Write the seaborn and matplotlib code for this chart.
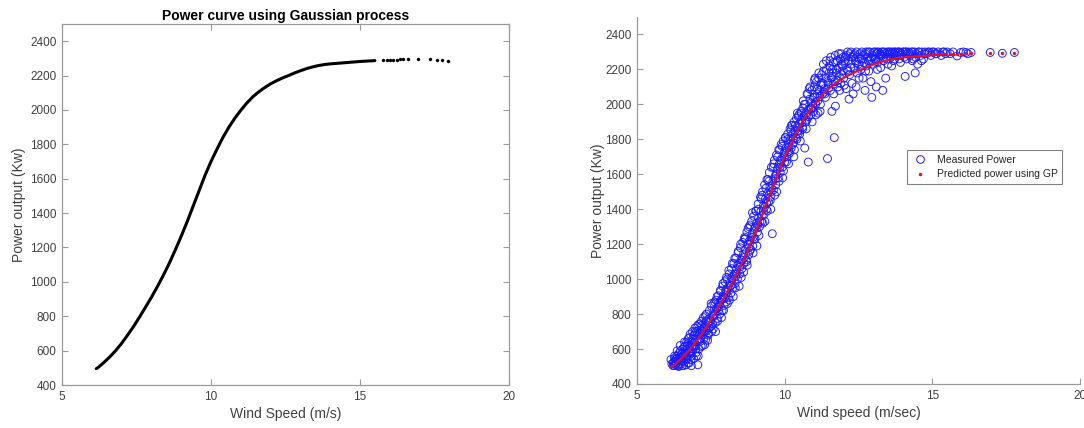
import matplotlib
matplotlib.use("Agg")
import matplotlib.pyplot as plt
from matplotlib.lines import Line2D
import seaborn as sns

# ---------------- data ----------------
gp_wind = [6.15, 6.2, 6.4, 6.6, 6.8, 7.0, 7.2, 7.4, 7.6, 7.8, 8.0, 8.2, 8.4, 8.6, 8.8,
           9.0, 9.2, 9.4, 9.6, 9.8, 10.0, 10.2, 10.4, 10.6, 10.8, 11.0, 11.2, 11.4,
           11.6, 11.8, 12.0, 12.2, 12.4, 12.6, 12.8, 13.0, 13.2, 13.4, 13.6, 13.8,
           14.0, 14.5, 15.0, 15.5]
gp_power = [495, 500, 530, 563, 600, 642, 690, 740, 795, 852, 910, 972, 1038, 1108, 1185,
            1265, 1350, 1440, 1530, 1620, 1700, 1772, 1840, 1900, 1952, 1998, 2040, 2076,
            2105, 2130, 2152, 2170, 2186, 2200, 2215, 2228, 2240, 2250, 2258, 2264,
            2268, 2275, 2282, 2287]

left_tail_wind = [15.77, 15.9, 16.0, 16.1, 16.24, 16.34, 16.44, 16.6, 16.95, 17.35,
                  17.6, 17.75, 17.95]
left_tail_power = [2289, 2290, 2291, 2292, 2293, 2294, 2294, 2295, 2297, 2296,
                   2292, 2290, 2287]

right_tail_wind = [15.6, 15.7, 15.84, 15.96, 16.14, 16.31, 16.96, 17.37, 17.78]
right_tail_power = [2288, 2289, 2290, 2291, 2292, 2293, 2296, 2294, 2295]

measured_wind_a = [
    6.15, 6.18, 6.22, 6.25, 6.28, 6.30, 6.33, 6.35, 6.38, 6.40, 6.42, 6.45, 6.47, 6.50,
    6.52, 6.55, 6.57, 6.60, 6.62, 6.64, 6.66, 6.68, 6.70, 6.72, 6.74, 6.76, 6.78, 6.80,
    6.82, 6.84, 6.86, 6.88, 6.90, 6.92, 6.94, 6.96, 6.98, 7.00, 7.02, 7.04, 7.06, 7.08,
    7.10, 7.12, 7.15, 7.18, 7.20, 7.22, 7.25, 7.28, 7.30, 7.33, 7.35, 7.38, 7.40, 7.42,
    7.45, 7.48, 7.50, 7.52, 7.55, 7.58, 7.60, 7.62, 7.65, 7.68, 7.70, 7.72, 7.75, 7.78,
    7.80, 7.82, 7.85, 7.88, 7.90, 7.92, 7.95, 7.98, 8.00, 8.02, 8.05, 8.08, 8.10, 8.12,
    8.15, 8.18, 8.20, 8.22, 8.25, 8.28, 8.30, 8.32, 8.35, 8.38, 8.40, 8.42, 8.45, 8.48,
    8.50, 8.52, 8.55, 8.58, 8.60, 8.62, 8.65, 8.68, 8.70, 8.72, 8.75, 8.78, 8.80, 8.82,
    8.85, 8.88, 8.90, 8.92, 8.95, 8.98, 9.00, 9.02, 9.05, 9.08, 9.10, 9.12, 9.15, 9.18,
    9.20, 9.22, 9.25, 9.28, 9.30, 9.32, 9.35, 9.38, 9.40, 9.42, 9.45, 9.48, 9.50, 9.52,
    9.55, 9.58, 9.60, 9.62, 9.65, 9.68, 9.70, 9.72, 9.75, 9.78, 9.80, 9.82, 9.85, 9.88,
    9.90, 9.92, 9.95, 9.98, 10.00, 10.02, 10.05, 10.08, 10.10, 10.12, 10.15, 10.18,
    10.20, 10.22, 10.25, 10.28, 10.30, 10.32, 10.35, 10.38, 10.40, 10.42, 10.45, 10.48,
    10.50, 10.52, 10.55, 10.58, 10.60, 10.62, 10.65, 10.68, 10.70, 10.72, 10.75, 10.78,
    10.80, 10.82, 10.85, 10.88, 10.90, 10.92, 10.95, 10.98, 11.00, 11.02, 11.05, 11.08,
    11.10, 11.12, 11.15, 11.18, 11.20, 11.22, 11.25, 11.28, 11.30, 11.32, 11.35, 11.38,
    11.40, 11.42, 11.45, 11.48, 11.50, 11.52, 11.55, 11.58, 11.60, 11.62, 11.65, 11.68,
    11.70, 11.72, 11.75, 11.78, 11.80, 11.82, 11.85, 11.88, 11.90, 11.92, 11.95, 11.98,
    12.00, 12.05, 12.08, 12.10, 12.12, 12.15, 12.18, 12.20, 12.22, 12.25, 12.28, 12.30,
    12.35, 12.38, 12.40, 12.42, 12.45, 12.48, 12.50, 12.55, 12.58, 12.60, 12.65, 12.68,
    12.70, 12.72, 12.75, 12.78, 12.80, 12.85, 12.88, 12.90, 12.95, 12.98, 13.00, 13.05,
    13.08, 13.10, 13.12, 13.15, 13.18, 13.20, 13.25, 13.28, 13.30, 13.32, 13.35, 13.38,
    13.40, 13.45, 13.48, 13.50, 13.55, 13.58, 13.60, 13.65, 13.68, 13.70, 13.75, 13.80,
    13.85, 13.88, 13.90, 13.95, 14.00, 14.05, 14.08, 14.10, 14.15, 14.20, 14.25, 14.30,
    14.35, 14.40, 14.45, 14.50, 14.55, 14.60, 14.65, 14.70, 14.75, 14.80, 14.90, 15.00,
    15.10, 15.20, 15.30, 15.40, 15.50, 15.60, 15.84, 15.96, 16.14, 16.31, 16.96, 17.37,
    17.78]
measured_power_a = [
    540, 515, 505, 530, 548, 510, 520, 560, 505, 540, 575, 515, 590, 545,
    505, 600, 560, 525, 615, 580, 510, 640, 595, 555, 660, 520, 620, 685,
    575, 505, 640, 700, 600, 545, 680, 720, 620, 580, 700, 655, 510, 740,
    600, 690, 645, 760, 710, 620, 780, 700, 745, 655, 800, 720, 770, 690,
    820, 760, 730, 845, 790, 715, 860, 800, 750, 880, 830, 775, 905, 850,
    800, 935, 880, 820, 960, 900, 850, 985, 930, 870, 1000, 950, 895, 1030,
    980, 920, 1060, 1000, 950, 1090, 1030, 975, 1120, 1060, 1000, 1150, 1090, 1030,
    1180, 1110, 1060, 1210, 1140, 1090, 1240, 1170, 1110, 1270, 1200, 1140, 1300, 1220,
    1170, 1330, 1260, 1190, 1360, 1290, 1230, 1390, 1320, 1270, 1430, 1350, 1300, 1470,
    1390, 1330, 1500, 1420, 1370, 1540, 1460, 1400, 1570, 1490, 1440, 1610, 1530, 1470,
    1640, 1260, 1560, 1510, 1680, 1590, 1540, 1710, 1630, 1580, 1740, 1660, 1610, 1770,
    1690, 1640, 1790, 1720, 1670, 1810, 1750, 1700, 1830, 1780, 1730, 1860,
    1800, 1750, 1880, 1830, 1780, 1900, 1850, 1810, 1920, 1870, 1830, 1940,
    1890, 1850, 1960, 1910, 1870, 1980, 1930, 1750, 2000, 1950, 1910, 2060,
    1670, 1975, 2030, 1940, 2010, 2080, 1990, 1960, 2100, 2040, 2000, 2130,
    2060, 2020, 2150, 2080, 1960, 2110, 2170, 2060, 2120, 2190, 2090, 2040,
    2150, 2200, 1690, 2120, 2180, 2220, 2080, 2150, 1960, 2200, 2240, 1810,
    2130, 1990, 2180, 2250, 2100, 2210, 2160, 2260, 2120, 2230, 2190, 2270,
    2150, 2240, 2090, 2280, 2200, 2250, 2030, 2170, 2290, 2230, 2120, 2270,
    2210, 2290, 2250, 2100, 2180, 2270, 2230, 2290, 2200, 2260, 2150, 2280,
    2240, 2080, 2300, 2220, 2270, 2190, 2300, 2250, 2040, 2280, 2230, 2300,
    2260, 2100, 2290, 2240, 2300, 2270, 2210, 2300, 2280, 2080, 2250, 2300,
    2290, 2260, 2300, 2230, 2290, 2300, 2270, 2300, 2250, 2290, 2300, 2280,
    2300, 2260, 2300, 2290, 2300, 2270, 2160, 2300, 2290, 2300, 2280, 2300,
    2260, 2300, 2290, 2230, 2300, 2280, 2300, 2260, 2300, 2290, 2300, 2300,
    2290, 2300, 2280, 2300, 2300, 2290, 2277, 2297, 2297, 2297, 2297, 2292,
    2297]

measured_wind_b = [
    6.23, 6.27, 6.31, 6.36, 6.39, 6.43, 6.46, 6.51, 6.54, 6.58, 6.61, 6.65, 6.69, 6.73,
    6.77, 6.81, 6.85, 6.89, 6.93, 6.97, 7.01, 7.05, 7.09, 7.13, 7.17, 7.21, 7.26, 7.31,
    7.36, 7.41, 7.46, 7.51, 7.56, 7.61, 7.66, 7.71, 7.76, 7.81, 7.86, 7.91, 7.96, 8.01,
    8.06, 8.11, 8.16, 8.21, 8.26, 8.31, 8.36, 8.41, 8.46, 8.51, 8.56, 8.61, 8.66, 8.71,
    8.76, 8.81, 8.86, 8.91, 8.96, 9.01, 9.06, 9.11, 9.16, 9.21, 9.26, 9.31, 9.36, 9.41,
    9.46, 9.51, 9.56, 9.61, 9.66, 9.71, 9.76, 9.81, 9.86, 9.91, 9.96, 10.01, 10.06,
    10.11, 10.16, 10.21, 10.26, 10.31, 10.36, 10.41, 10.46, 10.51, 10.56, 10.61, 10.66,
    10.71, 10.76, 10.81, 10.86, 10.91, 10.96, 11.01, 11.06, 11.11, 11.16, 11.21, 11.26,
    11.31, 11.36, 11.41, 11.46, 11.56, 11.61, 11.66, 11.71, 11.76, 11.86, 11.91, 11.96,
    12.02, 12.06, 12.14, 12.24, 12.32, 12.44, 12.52, 12.62, 12.74, 12.84, 12.92, 13.02,
    13.14, 13.22, 13.42, 13.52, 13.62, 13.72, 13.92, 14.12, 14.32, 14.42]
measured_power_b = [
    520, 560, 528, 590, 512, 548, 620, 530, 575, 505, 640, 560, 615, 520,
    665, 590, 560, 655, 610, 700, 560, 690, 650, 745, 615, 700, 660, 790,
    705, 680, 775, 860, 745, 820, 700, 900, 820, 870, 780, 975, 890, 940,
    860, 1050, 960, 1010, 900, 1120, 1030, 1080, 960, 1200, 1110, 1040, 1230, 1100,
    1290, 1160, 1240, 1380, 1230, 1300, 1190, 1400, 1330, 1460, 1320, 1410, 1520, 1390,
    1560, 1450, 1520, 1640, 1480, 1600, 1700, 1560, 1680, 1760, 1620, 1730, 1670,
    1800, 1720, 1850, 1770, 1700, 1880, 1800, 1930, 1830, 1950, 1860, 2000,
    1900, 2060, 1930, 2100, 1980, 2040, 2140, 1940, 2090, 2180, 2000, 2120,
    2230, 2060, 2250, 2130, 2270, 2160, 2060, 2280, 2200, 2080, 2290, 2220,
    2110, 2270, 2190, 2300, 2060, 2240, 2150, 2300, 2190, 2250, 2130, 2300,
    2200, 2290, 2150, 2280, 2220, 2300, 2240, 2300, 2250, 2180]

measured_wind_c = [
    6.32, 6.48, 6.63, 6.79, 6.95, 7.11, 7.27, 7.43, 7.59, 7.74, 7.89, 8.04, 8.19,
    8.34, 8.49, 8.64, 8.79, 8.94, 9.09, 9.24, 9.39, 9.54, 9.69, 9.84, 9.99, 10.14,
    10.29, 10.44, 10.59, 10.74, 10.89, 11.04, 11.19, 11.34, 11.49, 11.64, 11.79]
measured_power_c = [
    540, 552, 575, 610, 640, 680, 725, 750, 790, 840, 885, 925, 965,
    1015, 1070, 1125, 1180, 1240, 1310, 1365, 1435, 1500, 1575, 1640, 1700, 1755,
    1800, 1850, 1895, 1940, 1975, 2010, 2045, 2070, 2095, 2115, 2135]

measured_wind_d = [
    6.26, 6.34, 6.41, 6.49, 6.56, 6.59, 6.67, 6.71, 6.75, 6.83, 6.87, 6.91, 6.99, 7.03,
    7.07, 7.14, 7.19, 7.23, 7.29, 7.34, 7.39, 7.44,
    7.53, 7.63, 7.73, 7.83, 7.93, 8.03, 8.13, 8.23, 8.33, 8.43, 8.53, 8.63, 8.73, 8.83,
    8.93, 9.03, 9.13, 9.23, 9.33, 9.43, 9.53, 9.63, 9.73, 9.83, 9.93, 10.03, 10.13,
    10.23, 10.33, 10.43, 10.53, 10.63, 10.73, 10.83, 10.93, 11.03, 11.13,
    11.53, 11.63, 11.73, 11.83, 11.93, 12.03, 12.13, 12.23, 12.33, 12.43, 12.53, 12.63,
    12.73, 12.83, 12.93, 13.03, 13.13, 13.23, 13.33, 13.43, 13.53, 13.63, 13.73, 13.83,
    13.93, 14.03, 14.13, 14.23, 14.33, 14.43, 14.53, 14.63, 14.73, 14.85, 14.95, 15.05,
    15.15, 15.35, 15.45, 15.70, 16.05, 16.20]
measured_power_d = [
    505, 545, 500, 570, 530, 610, 545, 630, 580, 540, 620, 675, 600, 730,
    560, 660, 735, 680, 625, 760, 650, 720,
    700, 870, 760, 930, 820, 1010, 880, 1090, 950, 1160, 1010, 1230, 1080, 1310,
    1150, 1390, 1250, 1480, 1330, 1570, 1400, 1660, 1500, 1740, 1580, 1810, 1660,
    1880, 1740, 1950, 1790, 2020, 1860, 2090, 1900, 2150, 1950,
    2250, 2180, 2240, 2290, 2170, 2250, 2300, 2210, 2280, 2300, 2260, 2220,
    2290, 2300, 2270, 2260, 2300, 2280, 2300, 2270, 2300, 2290, 2260, 2300,
    2280, 2300, 2260, 2290, 2300, 2270, 2300, 2250, 2290, 2300, 2280, 2300,
    2290, 2300, 2290, 2300, 2300, 2290]

x_ticks = [5, 10, 15, 20]
y_ticks = [400, 600, 800, 1000, 1200, 1400, 1600, 1800, 2000, 2200, 2400]

measured_wind = measured_wind_a + measured_wind_b + measured_wind_c + measured_wind_d
measured_power = measured_power_a + measured_power_b + measured_power_c + measured_power_d

# ---------------- style ----------------
sns.set_style("white")
plt.rcParams["font.family"] = ["Liberation Sans", "DejaVu Sans"]

SPINE = "#9a9a9a"
TEXT = "#404040"
BLUE = "#1a1aff"
RED = "#e0102e"

fig = plt.figure(figsize=(10.84, 4.28), dpi=100)
W, H = 1084, 428
ax1 = fig.add_axes([62 / W, 1 - 385 / H, (509 - 62) / W, (385 - 24) / H])
ax2 = fig.add_axes([637 / W, 1 - 384 / H, (1080 - 637) / W, (384 - 17) / H])

# ---- left panel: GP prediction ----
sns.lineplot(x=gp_wind, y=gp_power, ax=ax1, color="black", linewidth=2.2,
             sort=False, estimator=None)
sns.scatterplot(x=left_tail_wind, y=left_tail_power, ax=ax1, color="black",
                s=6, linewidth=0, marker="o")
ax1.set_title("Power curve using Gaussian process", fontsize=10, fontweight="bold",
              color="black", pad=3)
ax1.set_xlabel("Wind Speed (m/s)", fontsize=10, color=TEXT, labelpad=3)
ax1.set_ylabel("Power output (Kw)", fontsize=10, color=TEXT, labelpad=3)

# ---- right panel: measured vs predicted ----
sns.scatterplot(x=measured_wind, y=measured_power, ax=ax2, marker="o", s=32,
                facecolors="none", edgecolor=BLUE, linewidth=0.65)
sns.lineplot(x=gp_wind, y=gp_power, ax=ax2, color=RED, linewidth=1.6,
             sort=False, estimator=None)
sns.scatterplot(x=right_tail_wind, y=right_tail_power, ax=ax2, color=RED,
                s=6, linewidth=0, marker="o")
ax2.set_xlabel("Wind speed (m/sec)", fontsize=10, color=TEXT, labelpad=3)
ax2.set_ylabel("Power output (Kw)", fontsize=10, color=TEXT, labelpad=0)

handles = [
    Line2D([], [], linestyle="none", marker="o", markersize=5.5, markerfacecolor="none",
           markeredgecolor=BLUE, markeredgewidth=0.7),
    Line2D([], [], linestyle="none", marker=".", markersize=3, color=RED),
]
leg = ax2.legend(handles, ["Measured Power", "Predicted power using GP"],
                 loc="upper left", bbox_to_anchor=(0.598, 0.652), fontsize=7.5,
                 frameon=True, fancybox=False, framealpha=1, edgecolor="#808080",
                 borderpad=0.45, labelspacing=0.45, handlelength=1.6, handletextpad=0.8)
leg.get_frame().set_linewidth(0.8)

for ax in (ax1, ax2):
    ax.set_xlim(5, 20)
    ax.set_ylim(400, 2500)
    ax.set_xticks(x_ticks)
    ax.set_yticks(y_ticks)
    ax.tick_params(direction="in", length=4, width=0.8, color=SPINE,
                   labelcolor=TEXT, labelsize=8.5, pad=4)
    for s in ax.spines.values():
        s.set_color(SPINE)
        s.set_linewidth(0.9)

ax1.tick_params(top=True, right=True, bottom=True, left=True)
ax2.tick_params(top=False, right=False, bottom=True, left=True)
ax2.spines["top"].set_visible(False)
ax2.spines["right"].set_visible(False)

fig.savefig("out.png", dpi=100)
